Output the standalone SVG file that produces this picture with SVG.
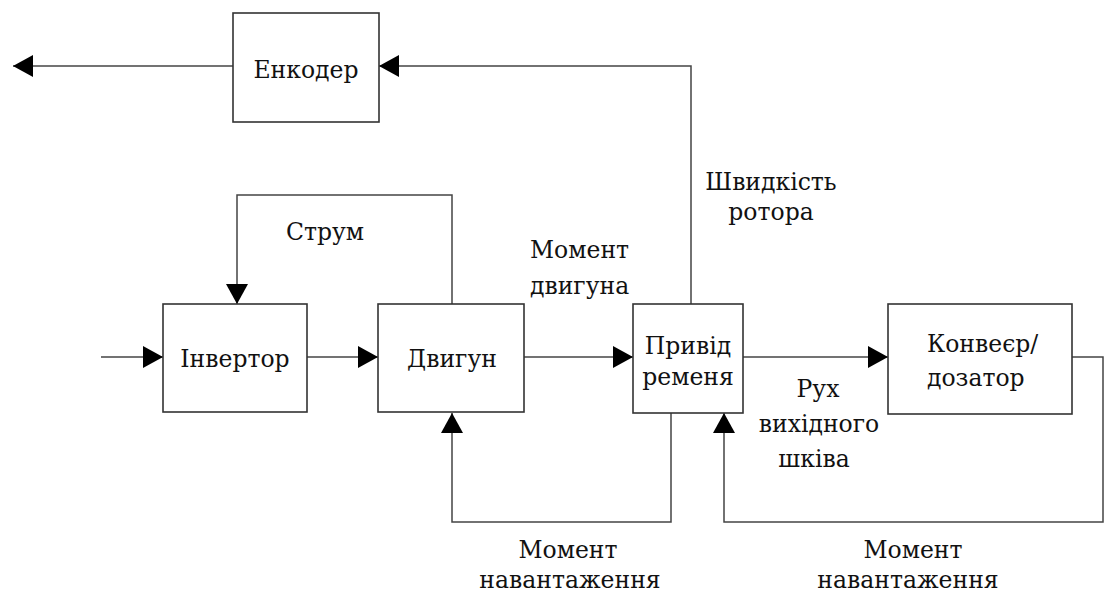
<svg xmlns="http://www.w3.org/2000/svg" width="1105" height="594" viewBox="0 0 1105 594">
<style>
.box{fill:#fff;stroke:#333;stroke-width:1.6}
.ln{fill:none;stroke:#444;stroke-width:1.5}
.c{text-anchor:middle}
</style>
<defs>
<marker id="ah" markerUnits="userSpaceOnUse" markerWidth="20" markerHeight="22" refX="20" refY="11" orient="auto">
<path d="M0,0 L20,11 L0,22 z" fill="#000"/>
</marker>
</defs>
<rect width="1105" height="594" fill="#fff"/>
<g id="connectors">
<path class="ln" d="M233,66 H13" marker-end="url(#ah)"/>
<path class="ln" d="M691,304 V66 H379" marker-end="url(#ah)"/>
<path class="ln" d="M452,304 V195 H237 V304" marker-end="url(#ah)"/>
<path class="ln" d="M101,357 H163" marker-end="url(#ah)"/>
<path class="ln" d="M307,357 H378" marker-end="url(#ah)"/>
<path class="ln" d="M524,357 H633" marker-end="url(#ah)"/>
<path class="ln" d="M743,357 H888" marker-end="url(#ah)"/>
<path class="ln" d="M671,413 V522 H452 V413" marker-end="url(#ah)"/>
<path class="ln" d="M1072,357 H1103 V522 H724 V413" marker-end="url(#ah)"/>
</g>
<g font-family="DejaVu Serif, Liberation Serif, serif" font-size="23.5" fill="#111">
<g id="encoder"><rect class="box" x="233" y="13" width="146" height="109"/><text class="c" x="306" y="78">Енкодер</text></g>
<g id="inverter"><rect class="box" x="163" y="304" width="144" height="108"/><text class="c" x="235" y="367">Інвертор</text></g>
<g id="motor"><rect class="box" x="378" y="304" width="146" height="108"/><text class="c" x="452" y="367">Двигун</text></g>
<g id="belt"><rect class="box" x="633" y="304" width="110" height="109"/><text class="c" x="688" y="354">Привід</text><text class="c" x="688" y="385">ременя</text></g>
<g id="conveyor"><rect class="box" x="888" y="304" width="184" height="110"/><text x="927" y="352">Конвеєр/</text><text x="927" y="386">дозатор</text></g>
<g id="labels">
<text class="c" x="771" y="190">Швидкість</text>
<text class="c" x="771" y="220">ротора</text>
<text class="c" x="325" y="240">Струм</text>
<text x="530" y="258">Момент</text>
<text x="530" y="294">двигуна</text>
<text class="c" x="818" y="397">Рух</text>
<text class="c" x="819" y="432">вихідного</text>
<text class="c" x="814" y="467">шківа</text>
<text class="c" x="568" y="558">Момент</text>
<text class="c" x="570" y="588">навантаження</text>
<text class="c" x="913" y="558">Момент</text>
<text class="c" x="908" y="588">навантаження</text>
</g>
</g>
</svg>
